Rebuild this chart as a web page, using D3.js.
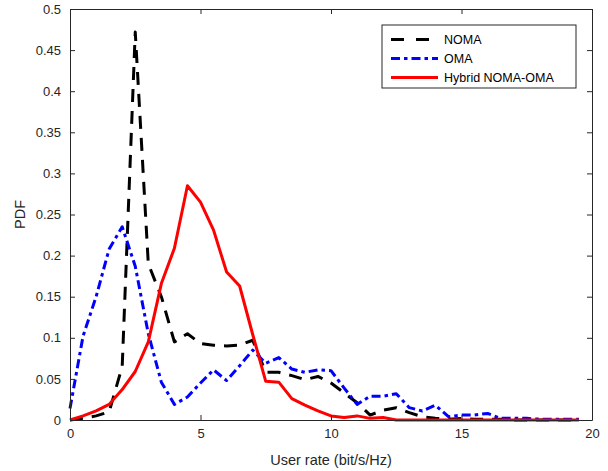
<!DOCTYPE html>
<html>
<head>
<meta charset="utf-8">
<script src="https://cdn.jsdelivr.net/npm/d3@7"></script>
<style>
  html, body { margin: 0; padding: 0; background: #fff; }
  svg { display: block; font-family: "Liberation Sans", Arial, Helvetica, sans-serif; }
</style>
</head>
<body>
<svg id="chart" width="608" height="471"></svg>
<script>
// ---- data ----
const rates = [0,0.5,1,1.5,2,2.5,3,3.5,4,4.5,5,5.5,6,6.5,7,7.5,8,8.5,9,9.5,10,10.5,11,11.5,12,12.5,13,13.5,14,14.5,15,15.5,16,16.5,17,17.5,18,18.5,19,19.5];
const noma = [0,0.002,0.005,0.010,0.065,0.472,0.190,0.150,0.095,0.105,0.093,0.091,0.090,0.091,0.097,0.058,0.058,0.054,0.049,0.053,0.045,0.033,0.021,0.006,0.012,0.015,0.009,0.004,0.002,0.001,0.002,0.001,0.001,0.001,0,0,0,0,0,0];
const oma = [0.014,0.102,0.150,0.208,0.235,0.187,0.105,0.046,0.019,0.028,0.045,0.061,0.048,0.066,0.085,0.069,0.076,0.062,0.058,0.061,0.060,0.039,0.019,0.029,0.029,0.032,0.015,0.011,0.018,0.004,0.006,0.006,0.008,0.002,0.002,0.002,0.001,0.001,0.001,0.001];
const hybrid = [0,0.005,0.011,0.019,0.037,0.059,0.095,0.166,0.209,0.285,0.265,0.231,0.180,0.163,0.104,0.047,0.046,0.026,0.018,0.011,0.005,0.003,0.005,0.002,0.003,0,0,0,0,0,0,0,0,0,0,0,0,0,0,0];
const xTicks = [0,5,10,15,20];
const yTicks = [0,0.05,0.1,0.15,0.2,0.25,0.3,0.35,0.4,0.45,0.5];
const seriesNames = ["NOMA","OMA","Hybrid NOMA-OMA"];

// ---- layout ----
const svg = d3.select("#chart");
const L = 70, R = 592, T = 9, B = 420;
const x = d3.scaleLinear().domain([0,20]).range([L,R]);
const y = d3.scaleLinear().domain([0,0.5]).range([B,T]);
const axisColor = "#262626";
const tickLen = 5;

// curves
const series = [
  {name: seriesNames[0], values: noma, color: "#000000", dash: "13,9", width: 3},
  {name: seriesNames[1], values: oma, color: "#0000ff", dash: "9,4,3.5,4", width: 3},
  {name: seriesNames[2], values: hybrid, color: "#ff0000", dash: null, width: 3}
];
const line = d3.line().x((d,i)=>x(rates[i])).y(d=>y(d));
const plot = svg.append("g");
series.forEach(s => {
  plot.append("path")
    .attr("d", line(s.values))
    .attr("fill","none")
    .attr("stroke", s.color)
    .attr("stroke-width", s.width)
    .attr("stroke-linejoin","round")
    .attr("stroke-dasharray", s.dash);
});

// axes (MATLAB box style with inward ticks)
const fmtY = d => d === 0 ? "0" : String(+d.toFixed(2));
const xAxis = d3.axisBottom(x).tickValues(xTicks).tickSizeInner(-tickLen).tickSizeOuter(0).tickPadding(9).tickFormat(d=>d);
const xAxisTop = d3.axisTop(x).tickValues(xTicks).tickSizeInner(-tickLen).tickSizeOuter(0).tickFormat("");
const yAxis = d3.axisLeft(y).tickValues(yTicks).tickSizeInner(-tickLen).tickSizeOuter(0).tickPadding(9).tickFormat(fmtY);
const yAxisRight = d3.axisRight(y).tickValues(yTicks).tickSizeInner(-tickLen).tickSizeOuter(0).tickFormat("");

function styleAxis(g){
  g.selectAll("path").attr("stroke", axisColor).attr("stroke-width",1);
  g.selectAll("line").attr("stroke", axisColor).attr("stroke-width",1);
  g.selectAll("text").attr("fill", axisColor).attr("font-size", 13).attr("font-family", "Liberation Sans, Arial, sans-serif");
}
svg.append("g").attr("transform",`translate(0,${B})`).call(xAxis).call(styleAxis);
svg.append("g").attr("transform",`translate(0,${T})`).call(xAxisTop).call(styleAxis);
svg.append("g").attr("transform",`translate(${L},0)`).call(yAxis).call(styleAxis);
svg.append("g").attr("transform",`translate(${R},0)`).call(yAxisRight).call(styleAxis);

// axis labels
svg.append("text").attr("x", (L+R)/2).attr("y", 465).attr("text-anchor","middle")
  .attr("font-size", 14.5).attr("fill", axisColor).text("User rate (bit/s/Hz)");
svg.append("text").attr("transform", `translate(25,${(T+B)/2}) rotate(-90)`).attr("text-anchor","middle")
  .attr("font-size", 14.5).attr("fill", axisColor).text("PDF");

// legend
const lg = svg.append("g");
lg.append("rect").attr("x", 382).attr("y", 25).attr("width", 194).attr("height", 63)
  .attr("fill","#fff").attr("stroke", axisColor).attr("stroke-width", 1);
const legY = [39.5, 58.5, 77.5];
series.forEach((s,i) => {
  lg.append("line").attr("x1", 391).attr("x2", 438).attr("y1", legY[i]).attr("y2", legY[i])
    .attr("stroke", s.color).attr("stroke-width", s.width).attr("stroke-dasharray", s.name==="NOMA" ? "13,12" : s.dash);
  lg.append("text").attr("x", 444).attr("y", legY[i]).attr("dy","0.35em")
    .attr("font-size", 12.5).attr("fill","#000").text(s.name);
});
</script>
</body>
</html>
